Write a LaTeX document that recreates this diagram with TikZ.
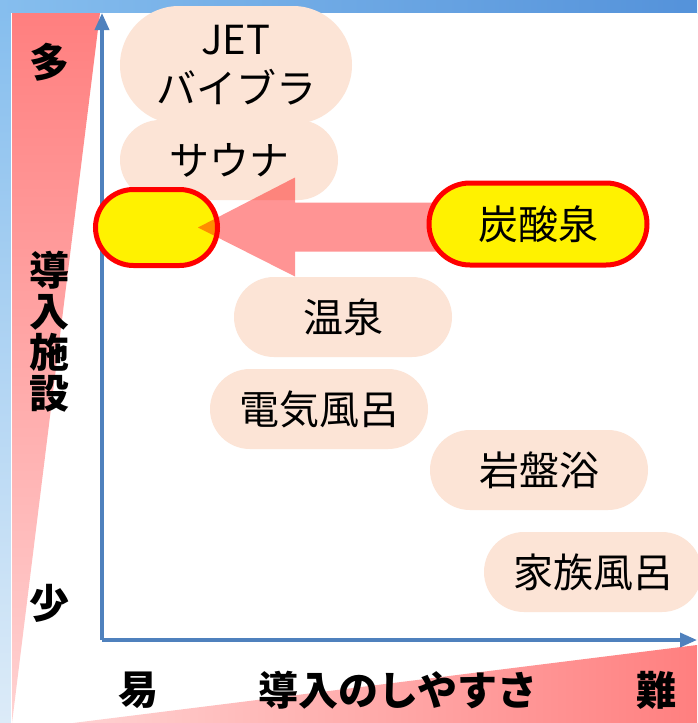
\documentclass[tikz,border=0pt]{standalone}
\usepackage{fontspec}
\newfontfamily\jpfont{Noto Sans CJK JP}
\usetikzlibrary{shapes.misc,arrows.meta,calc}
\definecolor{peach}{RGB}{252,228,214}
\definecolor{axisblue}{RGB}{79,129,189}
\definecolor{stripL}{RGB}{134,190,238}
\definecolor{stripR}{RGB}{84,146,218}
\definecolor{stripB}{RGB}{220,235,248}
\definecolor{wedgeD}{RGB}{255,127,127}
\definecolor{wedgeL}{RGB}{255,210,210}

\tikzset{
    pill/.style={rounded rectangle, fill=peach, minimum width=218pt, minimum height=80pt, inner sep=0pt, font=\jpfont\fontsize{40}{49}\selectfont, align=center},
    hotpill/.style={pill, fill=yellow, draw=red, line width=5pt},
    axlabel/.style={font=\jpfont\bfseries\fontsize{40}{41}\selectfont, align=center},
    axis/.style={draw=axisblue, line width=3.5pt, -{Triangle[length=17pt,width=14pt]}},
    bigarrow/.style={fill=red, fill opacity=0.42}
}

\begin{document}
\begin{tikzpicture}[x=1pt,y=-1pt]
    \useasboundingbox (0,0) rectangle (697,723);
    %Frame
    \shade[left color=stripL, right color=stripR] (0,0) rectangle (697,13);
    \shade[top color=stripL, bottom color=stripB] (0,13) rectangle (11,723);
    \fill[white] (11,13) rectangle (697,723);
    \shade[top color=wedgeD, bottom color=wedgeL] (12,13) -- (100,13) -- (12,723) -- cycle;
    \shade[left color=wedgeL, right color=wedgeD] (73,723) -- (697,645) -- (697,723) -- cycle;
    %Axes
    \coordinate (origin) at (102,640);
    \coordinate (ytop) at (102,13);
    \coordinate (xend) at (697,640);
    \draw[axis] (origin) -- (ytop);
    \draw[axis] (origin) -- (xend);
    %Axis labels
    \node[axlabel] (many) at (49,62) {多};
    \node[axlabel] (facility) at (49,332) {導\\入\\施\\設};
    \node[axlabel] (few) at (49,603) {少};
    \node[axlabel] (easy) at (138,690) {易};
    \node[axlabel] (ease) at (398,690) {導入のしやすさ};
    \node[axlabel] (hard) at (656,690) {難};
    %Facilities
    \node[pill, minimum width=232pt, minimum height=118pt] (jet) at (236,65) {JET\\バイブラ};
    \node[pill] (sauna) at (229,160) {サウナ};
    \node[pill] (onsen) at (343,317) {温泉};
    \node[pill] (denki) at (319,409) {電気風呂};
    \node[pill] (ganban) at (539,470) {岩盤浴};
    \node[pill] (kazoku) at (593,572) {家族風呂};
    %Move
    \node[hotpill, minimum width=122pt, minimum height=76pt] (target) at (156.5,227.5) {};
    \path (target.east) ++(-22,0) coordinate (tip);
    \coordinate (tansanpos) at (538,224);
    \coordinate (tail) at (tip -| tansanpos);
    \fill[bigarrow] (tip) -- ++(97,-50) -- ++(0,25) -- ($(tail)+(0,-25)$)
        -- ($(tail)+(0,24)$) -- ($(tip)+(97,24)$) -- ++(0,25) -- cycle;
    \node[hotpill, minimum height=82pt] (tansan) at (tansanpos) {炭酸泉};
\end{tikzpicture}
\end{document}
